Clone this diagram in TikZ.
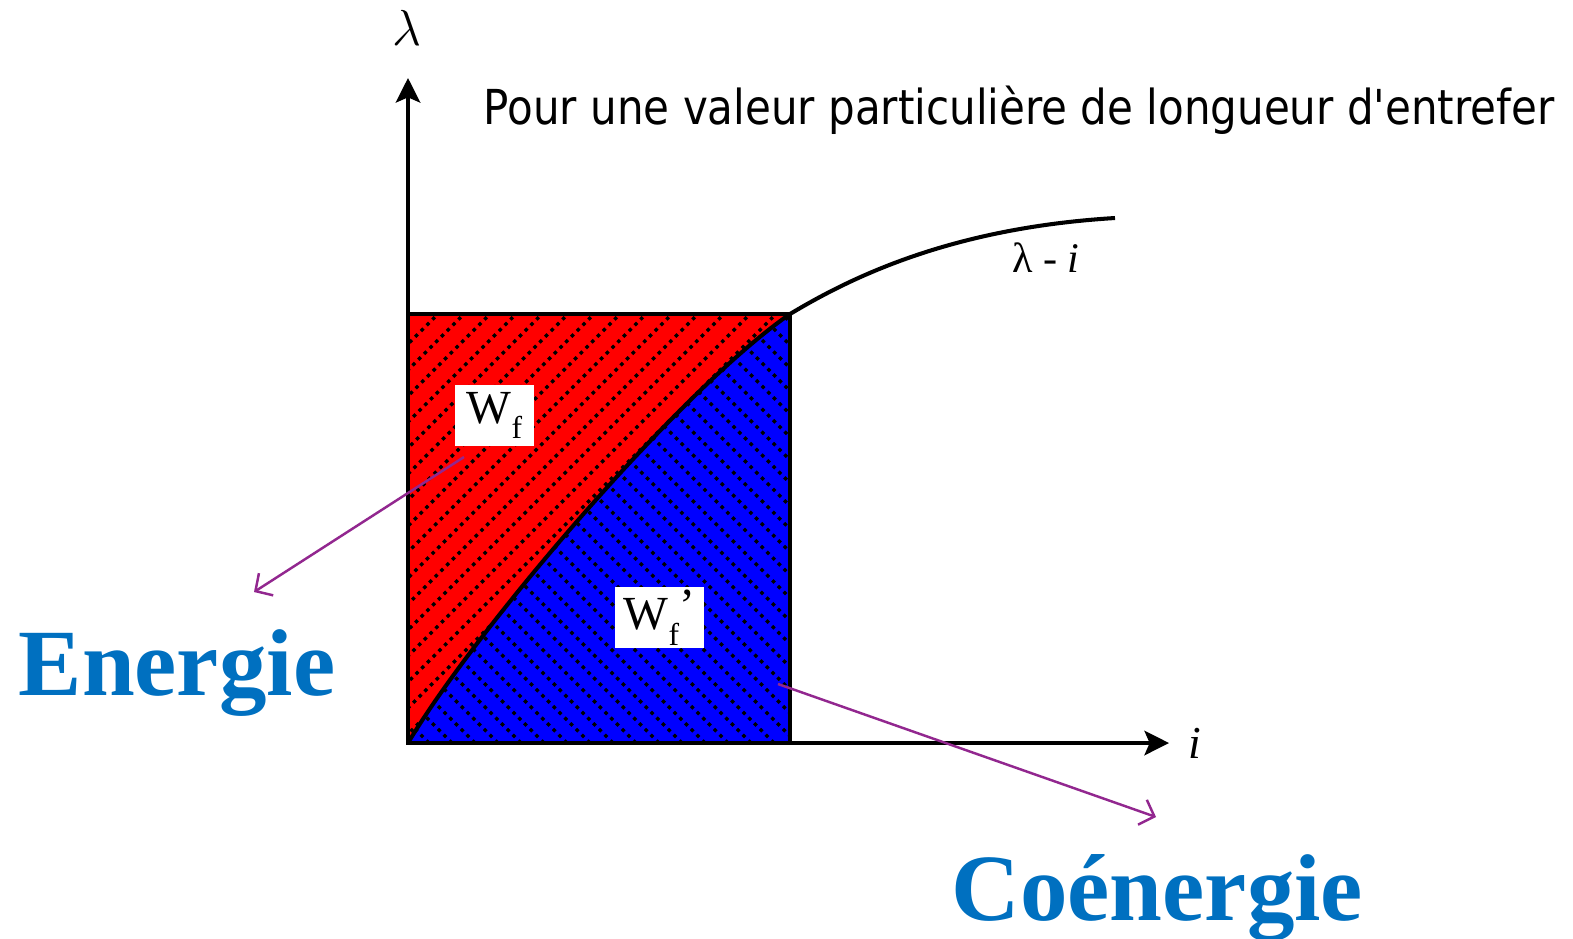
\documentclass[tikz,border=0pt]{standalone}
\usepackage{fontspec}
\setmainfont{Liberation Serif}
\newfontfamily\titlefont[Ligatures=ResetAll]{DejaVu Sans}
\usetikzlibrary{arrows.meta}
\definecolor{pinkarrow}{HTML}{92278F}
\definecolor{energyblue}{HTML}{0070C0}
\tikzset{
  axisline/.style={line width=0.9pt,-{Stealth[length=7pt,width=7pt,inset=1.5pt]}},
  hatchline/.style={black,line width=0.95pt,dash pattern=on 1pt off 1.3pt},
  curveline/.style={line width=1.15pt},
  rectline/.style={line width=1pt},
  labelbox/.style={fill=white,inner sep=0pt,minimum height=0.61cm,font=\fontsize{13.5pt}{15pt}\selectfont},
  pointer/.style={pinkarrow,line width=0.7pt,-{Straight Barb[length=3.6pt,width=7.5pt]}},
  bigword/.style={energyblue,font=\fontsize{27pt}{30pt}\selectfont\bfseries,inner sep=0pt}
}
\begin{document}
\begin{tikzpicture}[x=0.01cm,y=-0.01cm]
\useasboundingbox (0,0) rectangle (1573,938);
\coordinate (O) at (408,743);
\coordinate (C) at (790,314);
\coordinate (BR) at (790,743);
\coordinate (Ytop) at (408,78);
\coordinate (Xend) at (1169,743);
\coordinate (E) at (1115,218);
% red region with NE hatching
\fill[red] (O) rectangle (C);
\begin{scope}
  \clip (O) rectangle (C);
  \foreach \x in {-60,-34,...,800} \draw[hatchline] (\x,760) -- ++(480,-480);
\end{scope}
% blue region with NW hatching
\fill[blue] (O) .. controls (475,630) and (680,390) .. (C) -- (BR) -- cycle;
\begin{scope}
  \clip (O) .. controls (475,630) and (680,390) .. (C) -- (BR) -- cycle;
  \foreach \x in {-60,-37,...,800} \draw[hatchline] (\x,300) -- ++(480,480);
\end{scope}
% curve
\draw[curveline] (O) .. controls (475,630) and (680,390) .. (C)
  .. controls (850,278) and (950,228) .. (E);
\draw[rectline] (O) rectangle (C);
% axes
\draw[axisline] (O) -- (Ytop);
\draw[axisline] (O) -- (Xend);
% labels
\node (lam) at (407,28) {\fontsize{14pt}{16pt}\selectfont$\lambda$};
\node (iax) at (1195,743) {\fontsize{13pt}{15pt}\selectfont\textit{i}};
\node (curvelab) at (1046,258) {\fontsize{12pt}{14pt}\selectfont λ - \textit{i}};
\node[anchor=base west,inner sep=0pt] (title) at (483,124)
  {\resizebox{10.70cm}{\height}{\titlefont\fontsize{13.7pt}{16pt}\selectfont Pour une valeur particulière de longueur d'entrefer}};
\node[labelbox,minimum width=0.79cm] (wf) at (494.5,415.5)
  {\raisebox{1pt}{W}\raisebox{-3.5pt}{\fontsize{9pt}{10pt}\selectfont f}};
\node[labelbox,minimum width=0.89cm] (wfp) at (659.5,617.5)
  {\raisebox{1pt}{W}\raisebox{-3.5pt}{\fontsize{9pt}{10pt}\selectfont f}\raisebox{3.5pt}{’}};
% pointers
\coordinate (p1s) at (464,457);
\coordinate (p1e) at (254,592);
\coordinate (p2s) at (778,684);
\coordinate (p2e) at (1156,817);
\draw[pointer] (p1s) -- (p1e);
\draw[pointer] (p2s) -- (p2e);
\node[bigword,anchor=base west] (energie) at (18,695) {Energie};
\node[bigword,anchor=base west] (coenergie) at (951,920) {Coénergie};
\end{tikzpicture}
\end{document}
